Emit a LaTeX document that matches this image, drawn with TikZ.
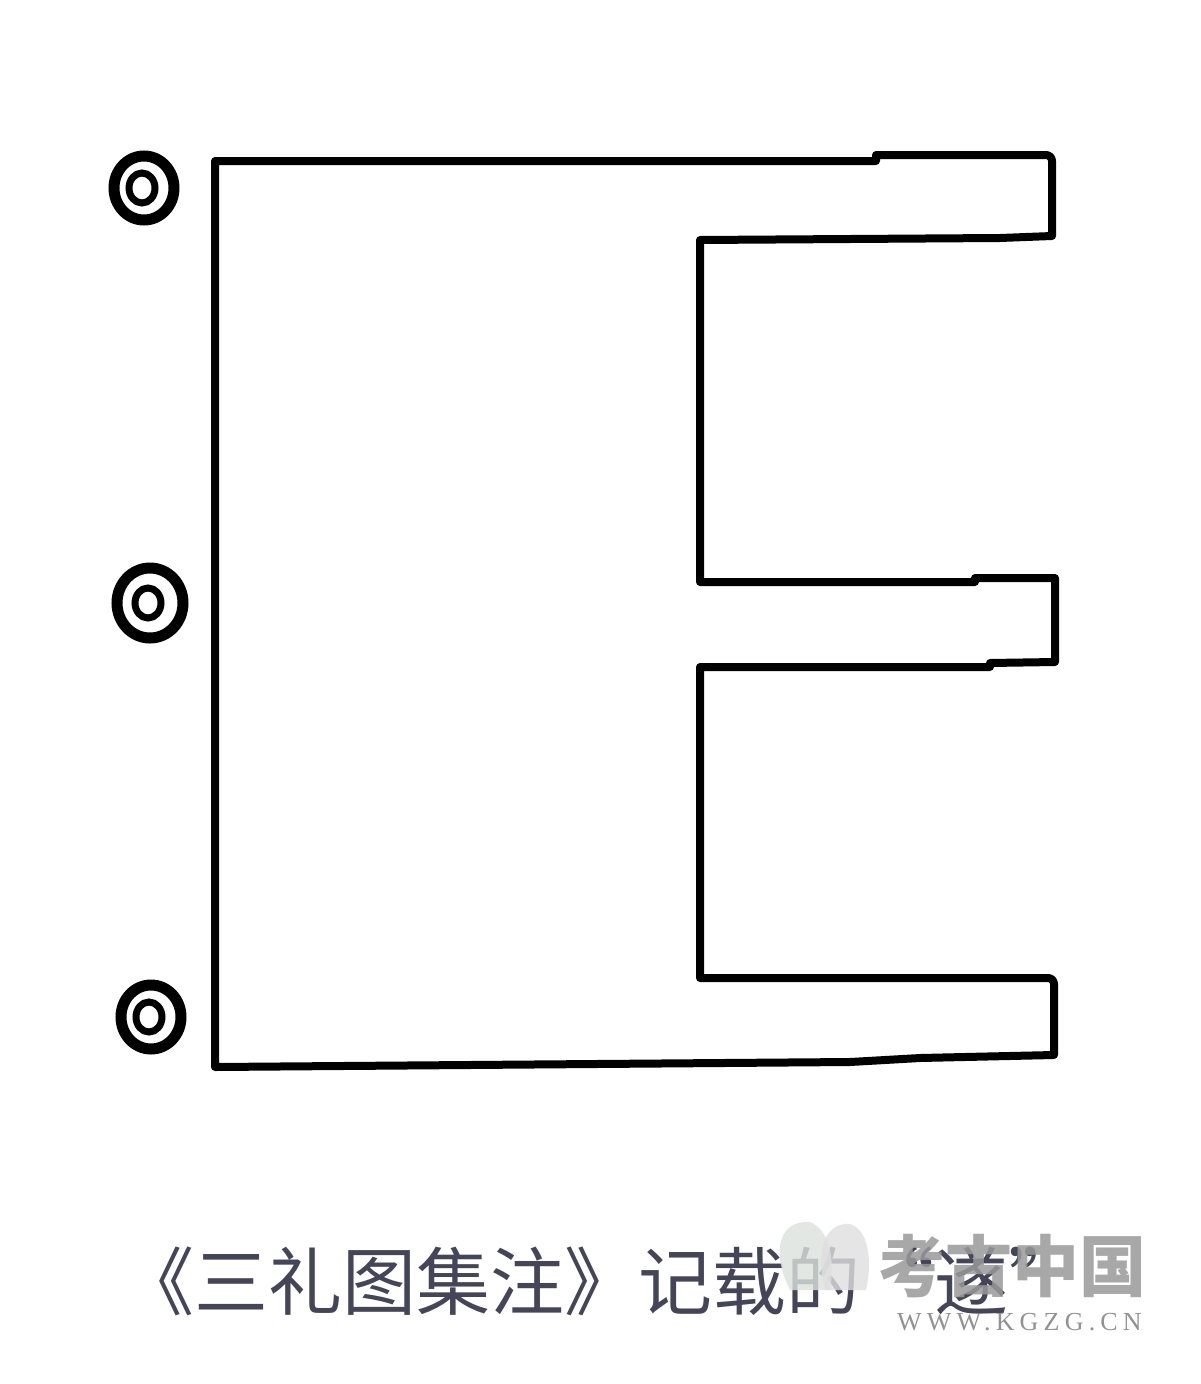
\documentclass[tikz,border=0pt]{standalone}
\usepackage{fontspec}
\newfontfamily\cjk{Noto Sans CJK SC}
\newfontfamily\wmfont[LetterSpace=20]{Liberation Serif}
\definecolor{captext}{HTML}{45455A}
\begin{document}
\begin{tikzpicture}[x=1pt,y=-1pt,
  outline/.style={line width=8pt, line join=round, line cap=round},
  ring/.style={line width=#1},
  caption/.style={anchor=west, inner sep=0pt, text=captext, font=\cjk\fontsize{74}{80}\selectfont},
  wmark/.style={anchor=west, inner sep=0pt, text=black!40, opacity=0.85}]
\useasboundingbox[fill=white] (0,0) rectangle (1200,1384);
% main outline
\draw[outline] (215,161) -- (876,161) -- (876,155) -- (1046,155)
  to[out=0,in=90] (1052,161) -- (1052,236) -- (1000,238) -- (700,240)
  -- (700,582) -- (975,582) -- (975,578) -- (1055,578) -- (1055,662)
  -- (990,663) -- (990,667) -- (700,667) -- (700,978) -- (1048,978)
  to[out=0,in=90] (1054,984) -- (1054,1055) -- (920,1058) -- (850,1062)
  -- (215,1067) -- cycle;
% bull's-eye marks
\foreach \cx/\cy/\r in {144/188/30, 150/603/33, 151/1017/30}{
  \draw[ring=11pt] (\cx,\cy) circle[x radius=\r pt, y radius=\r pt+2pt];
  \draw[ring=7pt] (\cx-2,\cy) circle[x radius=13pt, y radius=15pt];
}
% caption
\node[caption] (cap) at (120,1281) {《三礼图集注》记载的“遂”};
% watermark logo
\fill[green!10!gray!25, opacity=0.8] (790,1290) .. controls (770,1250) and (780,1220) .. (810,1222) .. controls (830,1230) and (835,1260) .. (830,1290) -- cycle;
\fill[gray!25, opacity=0.8] (825,1290) .. controls (815,1250) and (825,1222) .. (850,1224) .. controls (870,1230) and (872,1265) .. (866,1290) -- cycle;
% watermark text
\node[wmark, font=\cjk\bfseries\fontsize{67}{70}\selectfont] (wm) at (878,1266) {考古中国};
\node[wmark, font=\wmfont\fontsize{26}{28}\selectfont, text=black!50] (url) at (897,1322) {WWW.KGZG.CN};
\end{tikzpicture}
\end{document}
